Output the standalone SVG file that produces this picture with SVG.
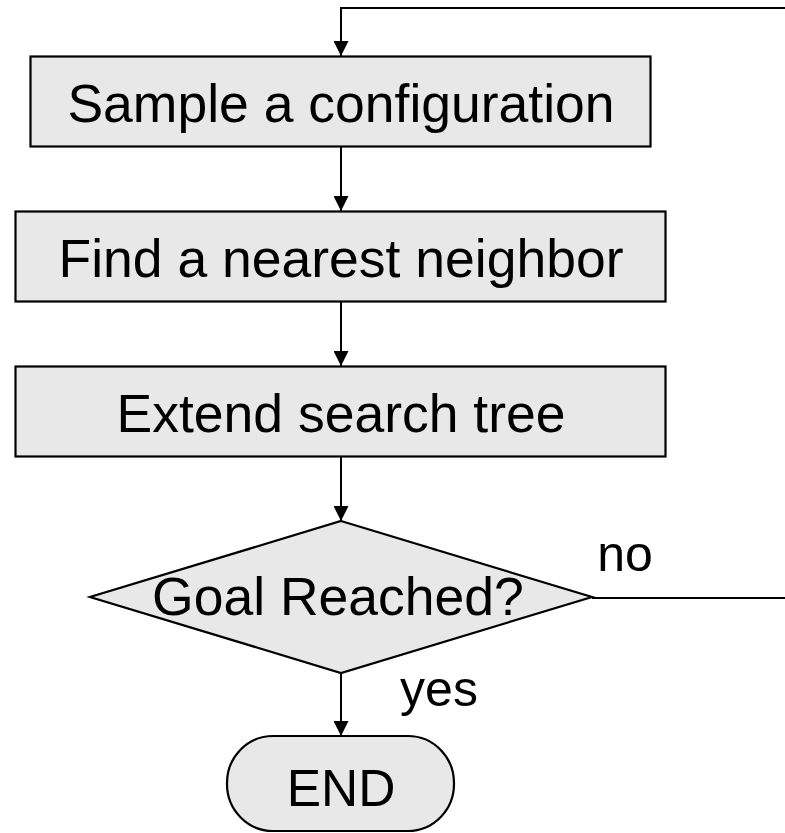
<svg xmlns="http://www.w3.org/2000/svg" width="785" height="833" viewBox="0 0 785 833">
<defs>
<marker id="arr" viewBox="0 0 15 15" refX="15" refY="7.5" markerWidth="15" markerHeight="15" orient="auto" markerUnits="userSpaceOnUse">
<path d="M0,0 L15,7.5 L0,15 Z" fill="#000"/>
</marker>
<style>
.shape{fill:#e8e8e8;stroke:#000;stroke-width:2.2}
.lbl{font-family:"Liberation Sans",Arial,sans-serif;fill:#000;text-anchor:middle}
.big{font-size:53.5px}
.mid{font-size:50px}
.edge{fill:none;stroke:#000;stroke-width:2}
</style>
</defs>
<rect width="785" height="833" fill="#fff"/>
<g id="connectors">
<path class="edge" d="M592,598 H800 V8 H341 V56" marker-end="url(#arr)"/>
<path class="edge" d="M341,147 V211" marker-end="url(#arr)"/>
<path class="edge" d="M341,302 V366" marker-end="url(#arr)"/>
<path class="edge" d="M341,457 V521" marker-end="url(#arr)"/>
<path class="edge" d="M341,673 V736" marker-end="url(#arr)"/>
<text class="lbl mid" x="625" y="571">no</text>
<text class="lbl mid" x="439" y="706">yes</text>
</g>
<g id="sample">
<rect class="shape" x="30.5" y="56.5" width="620" height="90"/>
<text class="lbl big" x="341" y="122">Sample a configuration</text>
</g>
<g id="nearest">
<rect class="shape" x="15.5" y="211.5" width="650" height="90"/>
<text class="lbl big" x="341" y="277">Find a nearest neighbor</text>
</g>
<g id="extend">
<rect class="shape" x="15.5" y="366.5" width="650" height="90"/>
<text class="lbl big" x="341" y="432">Extend search tree</text>
</g>
<g id="goal">
<polygon class="shape" points="341,521 592,597 341,673 90,597"/>
<text class="lbl" style="font-size:53.5px" x="338" y="615">Goal Reached?</text>
</g>
<g id="end">
<rect class="shape" x="227" y="736" width="227" height="95" rx="46" ry="47"/>
<text class="lbl" style="font-size:51.5px" x="341" y="806">END</text>
</g>
</svg>
